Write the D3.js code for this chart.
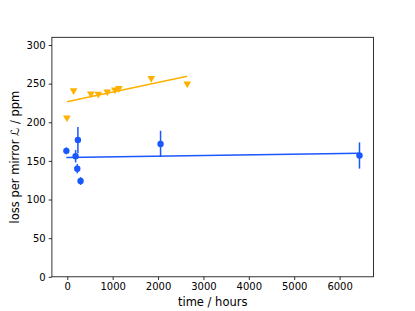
<!DOCTYPE html>
<html><head><meta charset="utf-8">
<script src="https://cdn.jsdelivr.net/npm/d3@7"></script>
<style>body{margin:0;background:#fff}svg{display:block}text{font-family:"DejaVu Sans",sans-serif}</style>
</head><body><svg id="c" width="415" height="311"></svg>
<script>
// Blue series (circles with error bars)
const blueX = [-20, 183, 234, 220, 293, 2055, 6438];
const blueY = [163, 156, 177, 140, 124, 172, 157];
const blueErr = [4.5, 8, 17, 6, 5, 17, 17];
const blueFit = [[-20, 154.5], [6438, 159.8]];
// Orange series (down triangles)
const orangeX = [-8, 139, 520, 683, 881, 1049, 1137, 1850, 2643];
const orangeY = [206, 241, 237, 236.6, 239.6, 242, 244, 257, 250];
const orangeFit = [[-8, 226.6], [2643, 259.6]];
const xTicks = [0, 1000, 2000, 3000, 4000, 5000, 6000];
const yTicks = [0, 50, 100, 150, 200, 250, 300];

const blue = "#1957ff", orange = "#ffb000";
const L = 51.9, R = 373.5, T = 37.3, B = 276.8;
const svg = d3.select("#c");
const x = d3.scaleLinear().domain([-339, 6747]).range([L, R]);
const y = d3.scaleLinear().domain([0, 310]).range([B, T]);

const line = d3.line().x(d => x(d[0])).y(d => y(d[1]));
svg.append("path").attr("d", line(orangeFit)).attr("stroke", orange).attr("stroke-width", 1.5).attr("fill", "none");
svg.append("path").attr("d", line(blueFit)).attr("stroke", blue).attr("stroke-width", 1.5).attr("fill", "none");

// error bars
blueX.forEach((v, i) => {
  svg.append("line").attr("x1", x(v)).attr("x2", x(v))
    .attr("y1", y(blueY[i] - blueErr[i])).attr("y2", y(blueY[i] + blueErr[i]))
    .attr("stroke", blue).attr("stroke-width", 1.5);
});
blueX.forEach((v, i) => {
  svg.append("circle").attr("cx", x(v)).attr("cy", y(blueY[i])).attr("r", 3.2).attr("fill", blue);
});
const tri = d3.symbol().type(d3.symbolTriangle).size(26);
orangeX.forEach((v, i) => {
  svg.append("path").attr("d", tri()).attr("fill", orange)
    .attr("transform", `translate(${x(v)},${y(orangeY[i])}) rotate(180)`);
});

// axes
const xa = svg.append("g").attr("transform", `translate(0,${B})`)
  .call(d3.axisBottom(x).tickValues(xTicks).tickSize(3.2).tickPadding(3).tickFormat(d3.format("d")));
const ya = svg.append("g").attr("transform", `translate(${L},0)`)
  .call(d3.axisLeft(y).tickValues(yTicks).tickSize(3.2).tickPadding(3).tickFormat(d3.format("d")));
[xa, ya].forEach(a => {
  a.select(".domain").remove();
  a.selectAll("line").attr("stroke", "#000").attr("stroke-width", 0.8);
  a.selectAll("text").attr("font-size", 10).attr("fill", "#000").attr("font-family", "DejaVu Sans");
});
svg.append("rect").attr("x", L).attr("y", T).attr("width", R - L).attr("height", B - T)
  .attr("fill", "none").attr("stroke", "#000").attr("stroke-width", 0.8);

svg.append("text").attr("x", (L + R) / 2).attr("y", 306).attr("text-anchor", "middle")
  .attr("font-size", 11.5).text("time / hours");
const yl = svg.append("text").attr("transform", `translate(19,${(T + B) / 2}) rotate(-90)`)
  .attr("text-anchor", "middle").attr("font-size", 11.5);
yl.append("tspan").text("loss per mirror ");
yl.append("tspan").attr("font-style", "italic").text("ℒ");
yl.append("tspan").text(" / ppm");
</script></body></html>
